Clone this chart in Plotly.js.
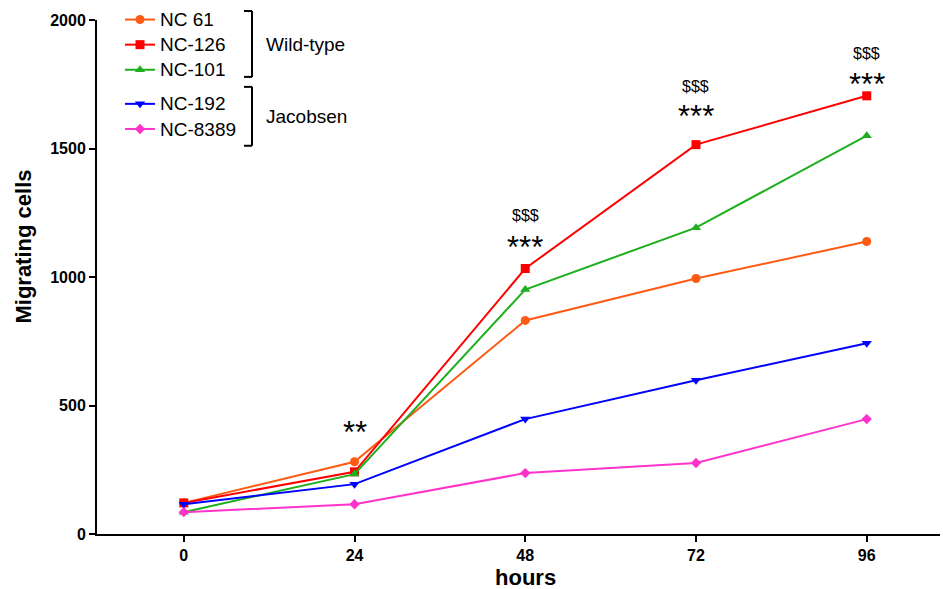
<!DOCTYPE html>
<html>
<head>
<meta charset="utf-8">
<script src="https://cdn.plot.ly/plotly-3.0.1.min.js"></script>
<style>html,body{margin:0;padding:0;background:#fff;}#chart{width:943px;height:589px;}</style>
</head>
<body>
<div id="chart"></div>
<script>
var hours = [0, 24, 48, 72, 96];
var seriesNames = ["NC 61", "NC-126", "NC-101", "NC-192", "NC-8389"];
var nc61 = [121, 281, 831, 994, 1138];
var nc126 = [121, 242, 1033, 1515, 1705];
var nc101 = [85, 233, 951, 1192, 1550];
var nc192 = [116, 194, 447, 598, 742];
var nc8389 = [85, 116, 237, 276, 447];
var groupNames = ["Wild-type", "Jacobsen"];
var starLabels = ["", "**", "***", "***", "***"];
var dollarLabels = ["", "", "$$$", "$$$", "$$$"];
var starY = [0, 395, 1115, 1625, 1750];
var dollarY = [0, 0, 1240, 1740, 1870];

var colors = ["#FF5A14", "#FF0000", "#1DAF1D", "#0000FF", "#FF33CC"];
var symbols = ["circle", "square", "triangle-up", "triangle-down", "diamond"];
var allData = [nc61, nc126, nc101, nc192, nc8389];
var groups = ["wt", "wt", "wt", "jac", "jac"];

var traces = allData.map(function (d, i) {
  return {
    x: hours, y: d, name: '<span style="font-size:19px">' + seriesNames[i] + '</span>',
    type: "scatter", mode: "lines+markers",
    line: {color: colors[i], width: 2},
    marker: {color: colors[i], symbol: symbols[i], size: i === 4 ? 8 : 9},
    legendgroup: groups[i]
  };
});

function px(v) { return (v - 97) / 843; }
function py(v) { return (534 - v) / 515; }

var annotations = [];
hours.forEach(function (h, i) {
  if (starLabels[i]) annotations.push({x: h, y: starY[i], text: starLabels[i], showarrow: false, font: {size: 31, color: "#000", family: "Liberation Sans, Arial"}, xref: "x", yref: "y"});
  if (dollarLabels[i]) annotations.push({x: h, y: dollarY[i], text: dollarLabels[i], showarrow: false, font: {size: 16, color: "#000", family: "Liberation Sans, Arial"}, xref: "x", yref: "y"});
});
annotations.push({x: px(264), y: py(44), xref: "paper", yref: "paper", xanchor: "left", yanchor: "middle", text: groupNames[0], showarrow: false, font: {size: 19, color: "#000"}});
annotations.push({x: px(264), y: py(116), xref: "paper", yref: "paper", xanchor: "left", yanchor: "middle", text: groupNames[1], showarrow: false, font: {size: 19, color: "#000"}});
annotations.push({x: px(24), y: py(246), xref: "paper", yref: "paper", xanchor: "center", yanchor: "middle", textangle: -90, text: "<b>Migrating cells</b>", showarrow: false, font: {size: 22, color: "#000"}});
annotations.push({x: px(525), y: py(578), xref: "paper", yref: "paper", xanchor: "center", yanchor: "middle", text: "<b>hours</b>", showarrow: false, font: {size: 22, color: "#000"}});

var bl = {color: "#000", width: 2};
var shapes = [
  {type: "line", xref: "paper", yref: "paper", x0: px(244), x1: px(252), y0: py(10), y1: py(10), line: bl},
  {type: "line", xref: "paper", yref: "paper", x0: px(252), x1: px(252), y0: py(10), y1: py(76), line: bl},
  {type: "line", xref: "paper", yref: "paper", x0: px(244), x1: px(252), y0: py(76), y1: py(76), line: bl},
  {type: "line", xref: "paper", yref: "paper", x0: px(244), x1: px(252), y0: py(86), y1: py(86), line: bl},
  {type: "line", xref: "paper", yref: "paper", x0: px(252), x1: px(252), y0: py(86), y1: py(145), line: bl},
  {type: "line", xref: "paper", yref: "paper", x0: px(244), x1: px(252), y0: py(145), y1: py(145), line: bl}
];

var layout = {
  width: 943, height: 589,
  margin: {l: 97, r: 3, t: 19, b: 55},
  paper_bgcolor: "#fff", plot_bgcolor: "#fff",
  font: {family: "Liberation Sans, Arial, sans-serif", color: "#000"},
  showlegend: true,
  legend: {x: px(120), y: py(2), xanchor: "left", yanchor: "top", traceorder: "grouped", tracegroupgap: 9,
    font: {size: 17, color: "#000"}, bgcolor: "rgba(0,0,0,0)", itemwidth: 30},
  xaxis: {
    range: [-12.2, 106.3], tickvals: hours, ticktext: hours.map(String),
    showgrid: false, zeroline: false, showline: true, linecolor: "#000", linewidth: 2,
    ticks: "outside", ticklen: 6, tickwidth: 2, tickcolor: "#000",
    tickfont: {size: 16, color: "#000", family: "Liberation Sans, Arial", weight: "bold"}
  },
  yaxis: {
    range: [0, 2000], tickvals: [0, 500, 1000, 1500, 2000],
    showgrid: false, zeroline: false, showline: true, linecolor: "#000", linewidth: 2,
    ticks: "outside", ticklen: 6, tickwidth: 2, tickcolor: "#000",
    tickfont: {size: 16, color: "#000", family: "Liberation Sans, Arial", weight: "bold"}
  },
  annotations: annotations,
  shapes: shapes
};

Plotly.newPlot("chart", traces, layout, {displayModeBar: false, staticPlot: true});
</script>
</body>
</html>
